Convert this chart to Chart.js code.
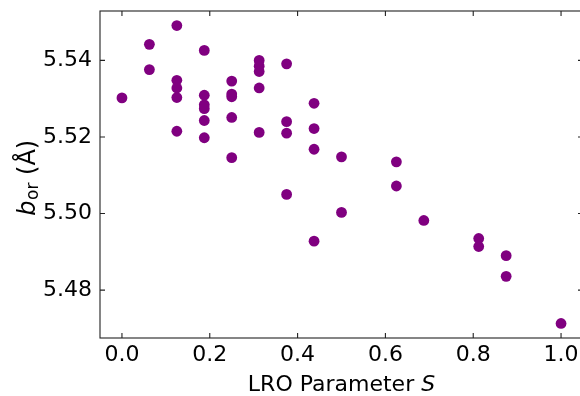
<!DOCTYPE html>
<html>
<head>
<meta charset="utf-8">
<script src="https://cdn.jsdelivr.net/npm/chart.js@4"></script>
<style>
  html, body { margin: 0; padding: 0; background: #fff; overflow: hidden; }
  #wrap { width: 580px; height: 396px; overflow: hidden; }
  canvas { display: block; }
</style>
</head>
<body>
<div id="wrap"><canvas id="chartCanvas" width="590" height="396"></canvas></div>
<script>
// LRO parameter S for each sample
const sValues = [
    0,
    0.0625, 0.0625,
    0.125, 0.125, 0.125, 0.125, 0.125,
    0.1875, 0.1875, 0.1875, 0.1875, 0.1875, 0.1875,
    0.25, 0.25, 0.25, 0.25, 0.25,
    0.3125, 0.3125, 0.3125, 0.3125, 0.3125,
    0.375, 0.375, 0.375, 0.375,
    0.4375, 0.4375, 0.4375, 0.4375,
    0.5, 0.5,
    0.625, 0.625,
    0.6875,
    0.8125, 0.8125,
    0.875, 0.875,
    1.0
];
// lattice parameter b_or (Angstrom)
const bValues = [
    5.5302,
    5.5442, 5.5376,
    5.5491, 5.5348, 5.5328, 5.5303, 5.5215,
    5.5426, 5.5309, 5.5284, 5.5274, 5.5243, 5.5198,
    5.5346, 5.5312, 5.5305, 5.5251, 5.5146,
    5.5400, 5.5385, 5.5371, 5.5328, 5.5212,
    5.5391, 5.5240, 5.5210, 5.5050,
    5.5288, 5.5222, 5.5168, 5.4928,
    5.5148, 5.5003,
    5.5135, 5.5072,
    5.4982,
    5.4935, 5.4914,
    5.4890, 5.4836,
    5.4713
];
const xTicks = [0.0, 0.2, 0.4, 0.6, 0.8, 1.0];
const yTicks = [5.48, 5.50, 5.52, 5.54];

const FONT = "'DejaVu Sans', sans-serif";

// drop the label overhang padding chart.js adds, so the plot box stays put
function noPad(s) {
    s.paddingTop = 0; s.paddingBottom = 0;
    s.paddingLeft = 0; s.paddingRight = 0;
}

// inward ticks on all four sides, frame and axis titles
const framePlugin = {
    id: 'frame',
    afterDraw(chart) {
        const { ctx, chartArea: a, scales } = chart;
        ctx.save();
        ctx.strokeStyle = '#222';
        ctx.lineWidth = 1.1;
        ctx.strokeRect(a.left, a.top, a.right - a.left, a.bottom - a.top);
        const len = 5;
        ctx.beginPath();
        xTicks.forEach(v => {
            const x = scales.x.getPixelForValue(v);
            ctx.moveTo(x, a.bottom); ctx.lineTo(x, a.bottom - len);
            ctx.moveTo(x, a.top); ctx.lineTo(x, a.top + len);
        });
        yTicks.forEach(v => {
            const y = scales.y.getPixelForValue(v);
            ctx.moveTo(a.left, y); ctx.lineTo(a.left + len, y);
            ctx.moveTo(a.right, y); ctx.lineTo(a.right - len, y);
        });
        ctx.stroke();

        // x title: LRO Parameter S
        ctx.fillStyle = '#000';
        ctx.textBaseline = 'alphabetic';
        ctx.textAlign = 'left';
        const reg = '22px ' + FONT, ital = 'italic 22px ' + FONT;
        ctx.font = reg;
        const w1 = ctx.measureText('LRO Parameter ').width;
        ctx.font = ital;
        const w2 = ctx.measureText('S').width;
        let x0 = (a.left + a.right) / 2 - (w1 + w2) / 2;
        ctx.font = reg;
        ctx.fillText('LRO Parameter ', x0, 391);
        ctx.font = ital;
        ctx.fillText('S', x0 + w1, 391);

        // y title: b_or (Å), rotated
        ctx.translate(35, 178);
        ctx.rotate(-Math.PI / 2);
        const yReg = '24px ' + FONT, yItal = 'italic 24px ' + FONT, sub = '17px ' + FONT;
        ctx.font = yItal; const wb = ctx.measureText('b').width;
        ctx.font = sub; const wo = ctx.measureText('or').width;
        ctx.font = yReg; const wa = ctx.measureText(' (Å)').width;
        let p = -(wb + wo + wa) / 2;
        ctx.font = yItal; ctx.fillText('b', p, 0); p += wb + 0.5;
        ctx.font = sub; ctx.fillText('or', p, 3); p += wo;
        ctx.font = yReg; ctx.fillText(' (Å)', p, 0);
        ctx.restore();
    }
};

function renderScatter() {
    const ctx = document.getElementById('chartCanvas').getContext('2d');
    const points = sValues.map((s, i) => ({ x: s, y: bValues[i] }));
    new Chart(ctx, {
        type: 'scatter',
        data: {
            datasets: [{
                data: points,
                backgroundColor: '#800080',
                borderWidth: 0,
                pointRadius: 5.4,
                pointHoverRadius: 5.4
            }]
        },
        options: {
            responsive: false,
            animation: false,
            events: [],
            layout: { padding: { left: 0, top: 11, right: 7, bottom: 0 } },
            plugins: { legend: { display: false }, tooltip: { enabled: false } },
            scales: {
                x: {
                    type: 'linear',
                    min: -0.05,
                    max: 1.05,
                    afterFit: s => { s.height = 58; noPad(s); },
                    afterBuildTicks: s => { s.ticks = xTicks.map(v => ({ value: v })); },
                    grid: { display: false, drawTicks: false },
                    border: { display: false },
                    ticks: {
                        font: { family: FONT, size: 22 },
                        color: '#000',
                        padding: 4,
                        maxRotation: 0,
                        callback: v => v.toFixed(1)
                    }
                },
                y: {
                    type: 'linear',
                    min: 5.4675,
                    max: 5.5529,
                    afterFit: s => { s.width = 100; noPad(s); },
                    afterBuildTicks: s => { s.ticks = yTicks.map(v => ({ value: v })); },
                    grid: { display: false, drawTicks: false },
                    border: { display: false },
                    ticks: {
                        font: { family: FONT, size: 22 },
                        color: '#000',
                        padding: 8,
                        callback: v => v.toFixed(2)
                    }
                }
            }
        },
        plugins: [framePlugin]
    });
}

document.addEventListener('DOMContentLoaded', renderScatter);
</script>
</body>
</html>
